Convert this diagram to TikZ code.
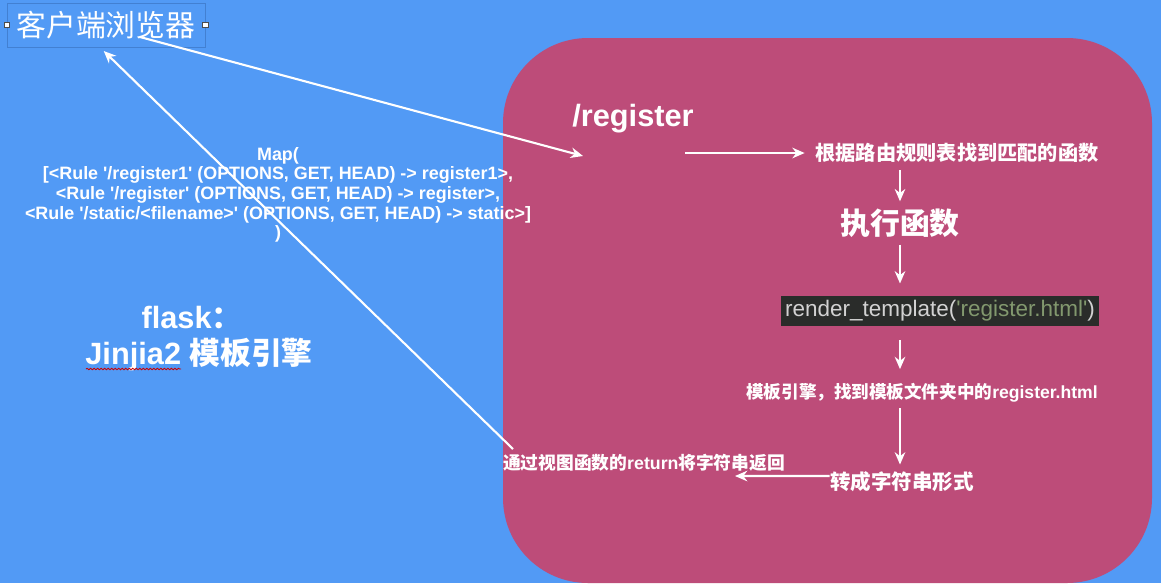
\documentclass[tikz,border=0pt]{standalone}
\usepackage{fontspec}
\setmainfont{Liberation Sans}
\newfontfamily\cjk{Noto Sans CJK SC}
\definecolor{BackColor}{RGB}{82,154,245}
\definecolor{BoxColor}{RGB}{189,76,121}
\definecolor{FrameColor}{RGB}{66,128,210}
\definecolor{CodeBack}{RGB}{42,44,42}
\definecolor{CodeText}{RGB}{210,210,210}
\definecolor{CodeString}{RGB}{130,152,110}
\usetikzlibrary{positioning, arrows.meta, decorations.pathmorphing}
\tikzstyle{arrow} = [line width=1.2pt, white, ->, >={Stealth[length=7pt, width=6pt]}]
\tikzstyle{whitetext} = [text=white, inner sep=0pt]
\tikzstyle{handle} = [fill=white, draw=black!70, line width=0.3pt, minimum size=3pt, inner sep=0pt]

\begin{document}
\begin{tikzpicture}[x=0.02cm, y=-0.02cm]
    % Background
    \useasboundingbox (0,0) rectangle (1161,583);
    \fill[BackColor] (0,0) rectangle (1161,583);
    \fill[BoxColor, rounded corners=1.7cm] (503,38) rectangle (1152,583);

    % Browser
    \node[whitetext, draw=FrameColor, line width=0.4pt, minimum width=3.96cm, minimum height=0.88cm,
          font=\cjk\fontsize{17}{20}\selectfont] (browser) at (106,25) {客户端浏览器};
    \node[handle] (handleL) at (browser.west) {};
    \node[handle] (handleR) at (browser.east) {};
    \coordinate (bOut) at (140,37);

    % Url map
    \node[whitetext, align=center, font=\bfseries\fontsize{10.2}{11.2}\selectfont] (map) at (278,195)
        {Map(\\
         {[}<Rule \textquotesingle/register1\textquotesingle{} (OPTIONS, GET, HEAD) -> register1>,\\
         <Rule \textquotesingle/register\textquotesingle{} (OPTIONS, GET, HEAD) -> register>,\\
         <Rule \textquotesingle/static/<filename>\textquotesingle{} (OPTIONS, GET, HEAD) -> static>]\\
         )};

    % Flask
    \node[whitetext, font=\bfseries\fontsize{17.5}{20}\selectfont] (flask) at (192,318) {flask{\cjk ：}};
    \node[whitetext, font=\bfseries\fontsize{17.5}{20}\selectfont] (jinja) at (199,355) {Jinjia2 {\cjk 模板引擎}};
    \draw[red!80!black, line width=0.5pt, decorate, decoration={snake, amplitude=0.4pt, segment length=2pt}]
        (86,369) -- (181,369);

    % Route
    \node[whitetext, font=\bfseries\fontsize{17.5}{20}\selectfont] (register) at (633,119) {/register};
    \coordinate (routeIn) at (583,156);
    \coordinate (regOut) at (685,153);
    \node[whitetext, font=\cjk\bfseries\fontsize{11.5}{14}\selectfont] (match) at (957,153) {根据路由规则表找到匹配的函数};
    \node[whitetext, font=\cjk\bfseries\fontsize{17}{20}\selectfont] (exec) at (900,223) {执行函数};

    % Template
    \node[fill=CodeBack, inner sep=2.5pt, text=CodeText, font=\fontsize{12.8}{15}\selectfont] (render) at (940,311)
        {render\_template(\textcolor{CodeString}{\textquotesingle register.html\textquotesingle})};
    \node[whitetext, font=\bfseries\fontsize{10}{12}\selectfont] (engine) at (922,393) {{\cjk 模板引擎，找到模板文件夹中的}register.html};
    \node[whitetext, font=\cjk\bfseries\fontsize{11.7}{14}\selectfont] (tostr) at (902,482) {转成字符串形式};

    % Return
    \node[whitetext, font=\bfseries\fontsize{10.1}{12}\selectfont] (retText) at (644,463) {{\cjk 通过视图函数的}return{\cjk 将字符串返回}};
    \coordinate (retStart) at (513,449);
    \coordinate (retEnd) at (735,476);

    % Arrows
    \draw[arrow] (bOut) -- (routeIn);
    \draw[arrow, shorten >=3pt] (retStart) -- ([xshift=-0.12cm]browser.south);
    \draw[arrow, shorten >=6pt] (regOut) -- (match.west);
    \draw[arrow, shorten <=4pt, shorten >=4pt] (exec |- match.south) -- (exec.north);
    \draw[arrow, shorten <=4pt, shorten >=7pt] (exec.south) -- (exec |- render.north);
    \draw[arrow, shorten <=8pt, shorten >=8pt] (exec |- render.south) -- (exec |- engine.north);
    \draw[arrow, shorten <=3pt, shorten >=4pt] (exec |- engine.south) -- (exec |- tostr.north);
    \draw[arrow] ([yshift=0.12cm]tostr.west) -- (retEnd);
\end{tikzpicture}
\end{document}
